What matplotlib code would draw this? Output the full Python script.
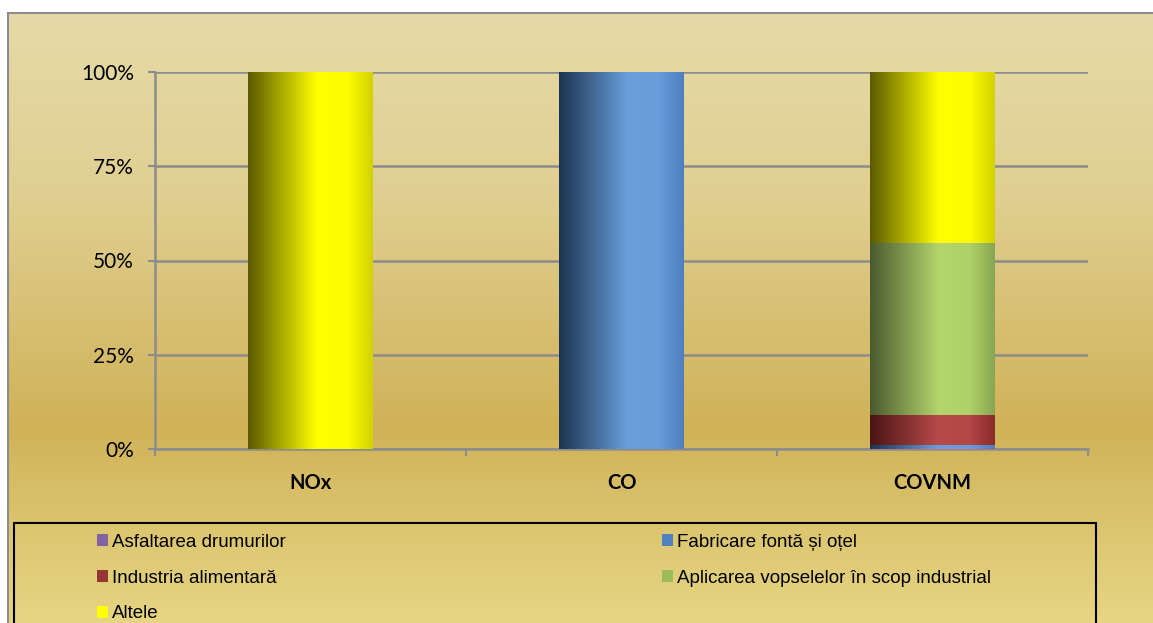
import numpy as np
import matplotlib.pyplot as plt
from matplotlib.patches import Patch, Rectangle
from matplotlib.colors import LinearSegmentedColormap

# ---------------------------------------------------------------
# data (percent of total emissions per pollutant)
# ---------------------------------------------------------------
categories = ['NOx', 'CO', 'COVNM']
sources = ['Asfaltarea drumurilor', 'Fabricare fontă și oțel', 'Industria alimentară',
           'Aplicarea vopselelor în scop industrial', 'Altele']
asfaltare = [0, 0, 0.3]
fonta = [0, 100, 0.7]
alimentara = [0, 0, 8.0]
vopsele = [0, 0, 45.6]
altele = [100, 0, 45.4]
yticks = [0, 25, 50, 75, 100]
ytick_labels = ['0%', '25%', '50%', '75%', '100%']

base_colors = ['#8064A2', '#4F81BD', '#953735', '#9BBB59', '#FFFF00']
# cylinder look: left edge, highlight, highlight, right edge
shades = [['#3a2a50', '#a48ccc', '#a08ac8', '#7a60a0'],
          ['#1c3350', '#6a9fdc', '#679cd9', '#4f7fbf'],
          ['#4a1414', '#b84a4a', '#b44646', '#8a2a2a'],
          ['#4a5a30', '#b4d46c', '#b0d068', '#88a650'],
          ['#5a5a00', '#ffff00', '#fdfd00', '#d2d200']]

W, H = 1153, 623
fig = plt.figure(figsize=(W / 100, H / 100), dpi=100)
fig.patch.set_facecolor('white')

# chart area background (vertical golden gradient)
bg = fig.add_axes([8 / W, 0, 1 - 8 / W, (H - 13) / H])
stops = [(0.0, (229/255, 218/255, 168/255)),
         (0.30, (224/255, 207/255, 145/255)),
         (0.68, (208/255, 178/255, 88/255)),
         (0.85, (220/255, 198/255, 112/255)),
         (1.0, (230/255, 213/255, 132/255))]
bg_cmap = LinearSegmentedColormap.from_list('bg', stops)
bg.imshow(np.linspace(0, 1, 512).reshape(-1, 1), cmap=bg_cmap, aspect='auto',
          extent=[0, 1, 0, 1], origin='upper')
bg.set_xlim(0, 1)
bg.set_ylim(0, 1)
bg.set_xticks([])
bg.set_yticks([])
for s in ['right', 'bottom']:
    bg.spines[s].set_visible(False)
for s in ['left', 'top']:
    bg.spines[s].set_color('#8c8c8c')
    bg.spines[s].set_linewidth(1.5)

# plot area
ax = fig.add_axes([155 / W, 1 - 449 / H, (1088 - 155) / W, (449 - 72) / H])
ax.set_facecolor('none')
x = np.arange(len(categories))
width = 0.4

series = [asfaltare, fonta, alimentara, vopsele, altele]
bottom = np.zeros(len(categories))
for vals, c, sh in zip(series, base_colors, shades):
    bars = ax.bar(x, vals, width, bottom=bottom, color=c, zorder=2)
    cmap = LinearSegmentedColormap.from_list('cyl', list(zip([0, 0.55, 0.8, 1], sh)))
    for p in bars.patches:
        if p.get_height() <= 0:
            continue
        x0, y0 = p.get_x(), p.get_y()
        ax.imshow(np.linspace(0, 1, 256).reshape(1, -1), cmap=cmap, aspect='auto',
                  extent=[x0, x0 + p.get_width(), y0, y0 + p.get_height()], zorder=3)
    bottom += np.array(vals)

ax.set_xlim(-0.5, 2.5)
ax.set_ylim(0, 100)
ax.set_yticks(yticks)
ax.set_yticklabels(ytick_labels, fontsize=15, fontfamily='Lato')
ax.yaxis.grid(True, color='#8c8c8c', linewidth=1.8, zorder=1)
ax.set_axisbelow(True)
ax.set_xticks(x)
ax.set_xticklabels(categories, fontsize=14.5, fontweight='bold', fontfamily='Lato')
ax.set_xticks([-0.5, 0.5, 1.5, 2.5], minor=True)
ax.tick_params(axis='x', which='major', length=0, pad=17)
ax.tick_params(axis='x', which='minor', length=5, color='#8c8c8c', width=1.5)
ax.tick_params(axis='y', length=5, color='#8c8c8c', width=1.5, pad=10)
for s in ['top', 'right']:
    ax.spines[s].set_visible(False)
for s in ['left', 'bottom']:
    ax.spines[s].set_color('#8c8c8c')
    ax.spines[s].set_linewidth(1.8)

# legend box
fig.patches.append(Rectangle((14 / W, -0.05), (1096 - 14) / W, 0.05 + (H - 523) / H,
                             transform=fig.transFigure, facecolor='none',
                             edgecolor='black', linewidth=1.5, zorder=5))
handles = [Patch(facecolor=c, edgecolor='none') for c in base_colors]
leg_kw = dict(frameon=False, handlelength=0.6, handleheight=0.6,
              handletextpad=0.2, labelspacing=1.0, loc='upper left',
              borderaxespad=0, borderpad=0,
              prop={'family': 'Liberation Sans', 'size': 13.5})
fig.legend([handles[0], handles[2], handles[4]], [sources[0], sources[2], sources[4]],
           bbox_to_anchor=(97 / W, 1 - 534 / H), **leg_kw)
fig.legend([handles[1], handles[3]], [sources[1], sources[3]],
           bbox_to_anchor=(662 / W, 1 - 534 / H), **leg_kw)

fig.savefig('out.png', dpi=100)
